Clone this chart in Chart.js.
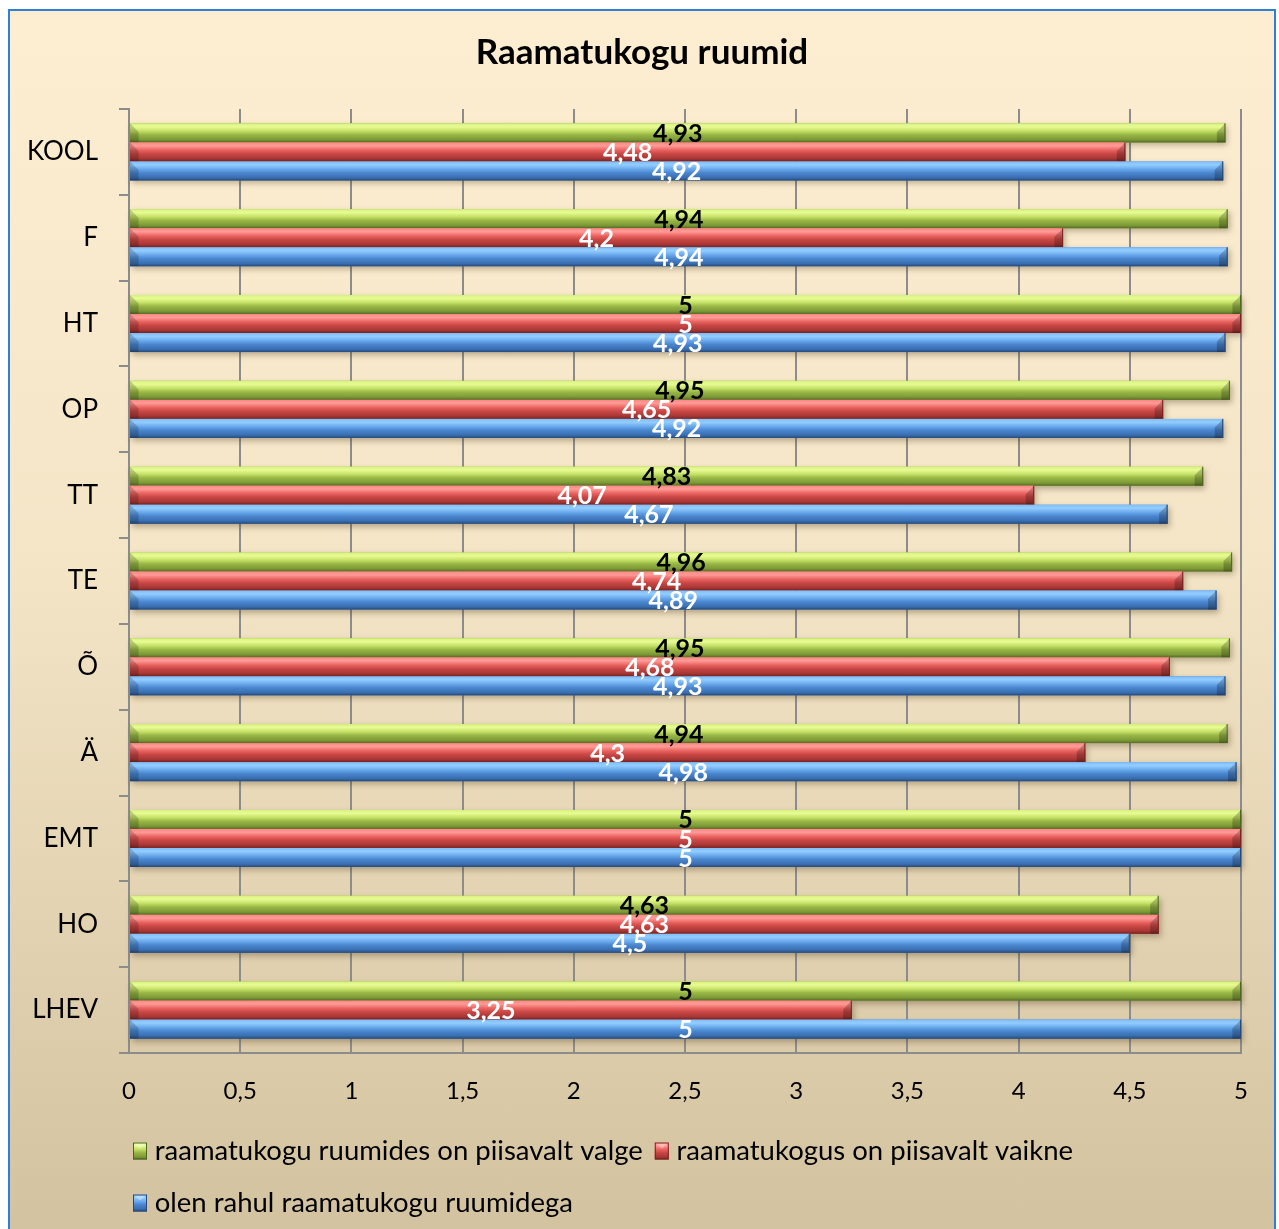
<!DOCTYPE html>
<html><head><meta charset="utf-8">
<script src="https://cdn.jsdelivr.net/npm/chart.js@4.4.1/dist/chart.umd.min.js"></script>
<style>
html,body{margin:0;padding:0;background:#fff;}
#frame{position:absolute;left:8px;top:9px;width:1264px;height:1222px;border:2px solid #2f7ed8;
background:linear-gradient(to bottom,#fdeed2 0%,#f4e5c7 45%,#d2c29f 100%);}
canvas{display:block;}
</style></head><body>
<div id="frame"><canvas id="c" width="1264" height="1220"></canvas></div>
<script>
const categories = ['KOOL','F','HT','OP','TT','TE','Õ','Ä','EMT','HO','LHEV'];
const seriesNames = ['raamatukogu ruumides on piisavalt valge','raamatukogus on piisavalt vaikne','olen rahul raamatukogu ruumidega'];
const valge  = [4.93,4.94,5,4.95,4.83,4.96,4.95,4.94,5,4.63,5];
const vaikne = [4.48,4.2,5,4.65,4.07,4.74,4.68,4.3,5,4.63,3.25];
const rahul  = [4.92,4.94,4.93,4.92,4.67,4.89,4.93,4.98,5,4.5,5];
const xTickLabels = ['0','0,5','1','1,5','2','2,5','3','3,5','4','4,5','5'];
const titleText = 'Raamatukogu ruumid';

const baseColors = ['#9fbf4a','#d9504e','#4a8bd6'];
const edgeColors = ['#4f6623','#7a2321','#24497a'];
const shades = [
  ['#d6f27c','#e8fb94','#c4e066','#98b645','#7d9a37','#566e26'],
  ['#ff8784','#ff9b97','#ea6461','#c84745','#a83735','#782220'],
  ['#7fbdfc','#93cdff','#6aa9ec','#4a86cf','#3a6fb0','#26497c']
];
const labelColors = ['#000000','#ffffff','#ffffff'];
const fmt = v => String(v).replace('.', ',');

function barGradient(ctx, i, t, b){
  const s = shades[i];
  const g = ctx.createLinearGradient(0,t,0,b);
  g.addColorStop(0,s[0]); g.addColorStop(0.18,s[1]); g.addColorStop(0.4,s[2]);
  g.addColorStop(0.6,s[3]); g.addColorStop(0.85,s[4]); g.addColorStop(1,s[5]);
  return g;
}

const fancyBars = {
  id:'fancyBars',
  afterLayout(chart){
    const lg = chart.legend;
    if (lg) {
      const dx = (chart.chartArea.left + 4) - (lg.left + lg.options.labels.padding);
      lg.left += dx; lg.right += dx;
      lg.top += 2; lg.bottom += 2;
    }
    const tb = chart.titleBlock;
    if (tb) { tb.left = 0; tb.right = chart.width; }
  },
  afterDatasetsDraw(chart){
    const ctx = chart.ctx;
    chart.data.datasets.forEach((ds,i)=>{
      const meta = chart.getDatasetMeta(i);
      if (meta.hidden) return;
      meta.data.forEach(el=>{
        const p = el.getProps(['x','y','base','height'], true);
        const l = Math.min(p.x,p.base), r = Math.max(p.x,p.base);
        const t = p.y - p.height/2, b = p.y + p.height/2, h = b - t;
        ctx.save();
        ctx.shadowColor='rgba(70,50,20,0.35)'; ctx.shadowBlur=6; ctx.shadowOffsetY=3; ctx.shadowOffsetX=2;
        ctx.fillStyle=barGradient(ctx,i,t,b); ctx.fillRect(l,t,r-l,h);
        ctx.restore();
        const bv = h*0.45;
        ctx.save();
        ctx.fillStyle='rgba(0,0,0,0.18)';
        ctx.beginPath(); ctx.moveTo(l,t); ctx.lineTo(l+bv,t+bv); ctx.lineTo(l+bv,b); ctx.lineTo(l,b); ctx.closePath(); ctx.fill();
        ctx.fillStyle='rgba(0,0,0,0.22)';
        ctx.beginPath(); ctx.moveTo(r,t); ctx.lineTo(r-bv,t+bv); ctx.lineTo(r-bv,b); ctx.lineTo(r,b); ctx.closePath(); ctx.fill();
        ctx.strokeStyle=edgeColors[i]; ctx.lineWidth=1;
        ctx.beginPath(); ctx.moveTo(r-0.5,t); ctx.lineTo(r-0.5,b); ctx.stroke();
        ctx.restore();
      });
    });
    ctx.save();
    ctx.font='bold 25px Lato';
    ctx.textAlign='center'; ctx.textBaseline='middle';
    chart.data.datasets.forEach((ds,i)=>{
      const meta = chart.getDatasetMeta(i);
      if (meta.hidden) return;
      meta.data.forEach((el,j)=>{
        const p = el.getProps(['x','y','base'], true);
        ctx.fillStyle=labelColors[i];
        ctx.fillText(fmt(ds.data[j]), (p.x+p.base)/2, p.y+1);
      });
    });
    ctx.restore();
  },
  afterDraw(chart){
    const lg = chart.legend;
    if (!lg || !lg.legendHitBoxes) return;
    const ctx = chart.ctx;
    lg.legendHitBoxes.forEach((hb,i)=>{
      const w = 14, h = 17;
      const x = hb.left, y = hb.top + hb.height/2 - h/2;
      ctx.save();
      const g = barGradient(ctx,i,y,y+h);
      ctx.fillStyle=g; ctx.fillRect(x,y,w,h);
      ctx.fillStyle='rgba(255,255,255,0.35)';
      ctx.beginPath(); ctx.moveTo(x,y); ctx.lineTo(x+w,y); ctx.lineTo(x+w/2,y+6); ctx.closePath(); ctx.fill();
      ctx.strokeStyle=edgeColors[i]; ctx.lineWidth=1; ctx.strokeRect(x+0.5,y+0.5,w-1,h-1);
      ctx.restore();
    });
  }
};

const seriesValues = [valge, vaikne, rahul];
new Chart(document.getElementById('c'), {
  type:'bar',
  data:{
    labels:categories,
    datasets: seriesNames.map((n,i)=>({
      label:n, data:seriesValues[i], backgroundColor:baseColors[i], borderColor:edgeColors[i],
      borderWidth:0, barPercentage:1, categoryPercentage:0.665
    }))
  },
  options:{
    indexAxis:'y', responsive:false, animation:false,
    layout:{padding:{left:0,right:33,top:0,bottom:0}},
    plugins:{
      title:{display:true,text:titleText,color:'#000',font:{family:'Lato',size:35,weight:'bold',lineHeight:1.2},padding:{top:21,bottom:35}},
      legend:{position:'bottom',align:'start',
        labels:{color:'#000',font:{family:'Lato',size:27.5},boxWidth:8,boxHeight:40,padding:12,
          generateLabels(chart){
            return Chart.defaults.plugins.legend.labels.generateLabels(chart).map(it=>Object.assign(it,{fillStyle:'rgba(0,0,0,0)',strokeStyle:'rgba(0,0,0,0)',lineWidth:0}));
          }}},
      tooltip:{enabled:false}
    },
    scales:{
      x:{min:0,max:5,
        afterFit(scale){ scale.height = 64; },
        ticks:{stepSize:0.5,color:'#000',padding:24,font:{family:'Lato',size:24,lineHeight:1.2},
          callback:(v,i)=>xTickLabels[i]},
        grid:{color:'#8c8c8c',lineWidth:2,drawTicks:false},
        border:{display:true,color:'#8c8c8c',width:2}},
      y:{
        afterFit(scale){ scale.width = 119; },
        ticks:{color:'#000',padding:21,font:{family:'Lato',size:26}},
        grid:{drawOnChartArea:false,drawTicks:true,tickLength:10,color:'#8c8c8c',lineWidth:2,offset:true},
        border:{display:true,color:'#8c8c8c',width:2}}
    }
  },
  plugins:[fancyBars]
});
</script>
</body></html>
